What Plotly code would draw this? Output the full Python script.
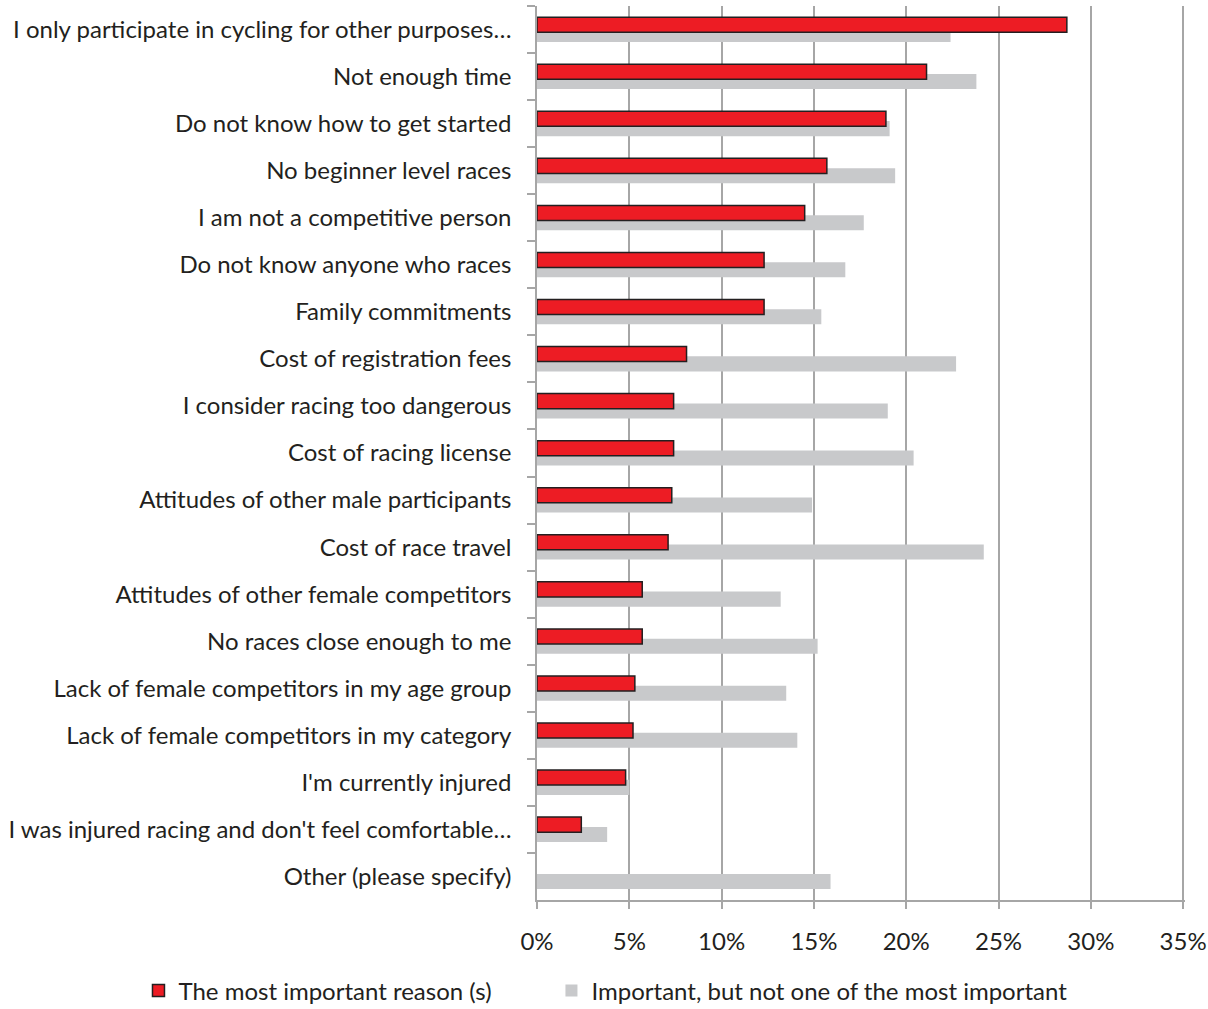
import plotly.graph_objects as go

# Survey: reasons for not racing (share of respondents, %)
reasons = [
    "I only participate in cycling for other purposes…",
    "Not enough time",
    "Do not know how to get started",
    "No beginner level races",
    "I am not a competitive person",
    "Do not know anyone who races",
    "Family commitments",
    "Cost of registration fees",
    "I consider racing too dangerous",
    "Cost of racing license",
    "Attitudes of other male participants",
    "Cost of race travel",
    "Attitudes of other female competitors",
    "No races close enough to me",
    "Lack of female competitors in my age group",
    "Lack of female competitors in my category",
    "I'm currently injured",
    "I was injured racing and don't feel comfortable…",
    "Other (please specify)",
]

# "Other" has no answers in the first series
most_important = [28.7, 21.1, 18.9, 15.7, 14.5, 12.3, 12.3, 8.1, 7.4, 7.4,
                  7.3, 7.1, 5.7, 5.7, 5.3, 5.2, 4.8, 2.4, None]
important_not_most = [22.4, 23.8, 19.1, 19.4, 17.7, 16.7, 15.4, 22.7, 19.0, 20.4,
                      14.9, 24.2, 13.2, 15.2, 13.5, 14.1, 5.0, 3.8, 15.9]

x_ticks = [0, 5, 10, 15, 20, 25, 30, 35]
x_tick_labels = ["0%", "5%", "10%", "15%", "20%", "25%", "30%", "35%"]

FONT = "Lato"
SIZE = 24
TEXT = "#231F20"
GRID = "#A6A6A6"

fig = go.Figure()

# grey series sits behind, shifted down within each category
fig.add_trace(go.Bar(
    y=reasons, x=important_not_most, orientation="h",
    name="Important, but not one of the most important",
    marker=dict(color="#C8C9CB", line=dict(width=0)),
    width=0.32, offset=-0.054, legend="legend2",
))

# red series on top, shifted up, with a dark outline
fig.add_trace(go.Bar(
    y=reasons, x=most_important, orientation="h",
    name="The most important reason (s)",
    marker=dict(color="#ED1C24", line=dict(color="#231F20", width=1.5)),
    width=0.32, offset=-0.262, legend="legend",
))

legend_style = dict(
    orientation="h", xanchor="left", y=-0.0766, yanchor="top",
    font=dict(family=FONT, size=SIZE, color=TEXT),
    itemwidth=30, bgcolor="rgba(0,0,0,0)",
)

fig.update_layout(
    width=1208, height=1009,
    margin=dict(l=537, r=23, t=6, b=109, autoexpand=False),
    barmode="overlay",
    plot_bgcolor="white", paper_bgcolor="white",
    font=dict(family=FONT, size=SIZE, color=TEXT),
    showlegend=True,
    legend=dict(x=-0.615, **legend_style),
    legend2=dict(x=0.0223, **legend_style),
)

fig.update_xaxes(
    range=[0, 35.1], tickvals=x_ticks, ticktext=x_tick_labels,
    showgrid=True, gridcolor=GRID, gridwidth=1.5,
    showline=True, linecolor=GRID, linewidth=1.5,
    ticks="outside", ticklen=7, tickcolor=GRID, tickwidth=1.5,
    ticklabelstandoff=12, zeroline=False, automargin=False,
    tickfont=dict(family=FONT, size=SIZE, color=TEXT),
)

fig.update_yaxes(
    autorange="reversed", type="category",
    showgrid=False, showline=True, linecolor=GRID, linewidth=1.5,
    ticks="outside", ticklen=8, tickcolor=GRID, tickwidth=1.5,
    tickson="boundaries", ticklabelstandoff=19, automargin=False,
    tickfont=dict(family=FONT, size=SIZE, color=TEXT),
)

fig.write_html("out.html")
